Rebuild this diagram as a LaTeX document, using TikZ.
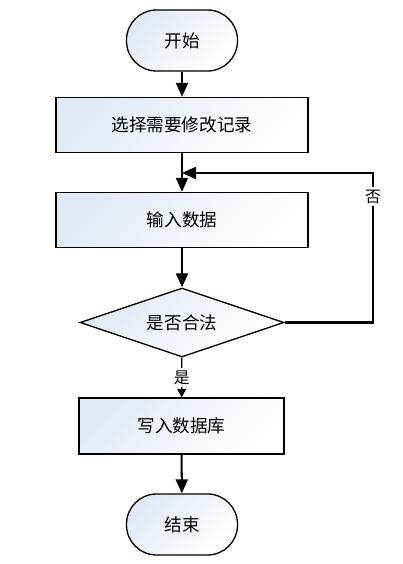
\documentclass[tikz,border=0pt]{standalone}
\usepackage{fontspec}
\setmainfont{Noto Sans CJK SC}
\usepackage{tikz}
\usetikzlibrary{arrows.meta,shapes.geometric,positioning}
\definecolor{fillblue}{RGB}{226,233,246}
\tikzset{
  flowfill/.style={draw, line width=0.75pt, top color=fillblue, bottom color=white, shading angle=45},
  terminal/.style={flowfill, rectangle, rounded corners=0.6cm, minimum width=2.22cm, minimum height=1.22cm},
  process/.style={flowfill, rectangle, minimum height=1.1cm},
  decision/.style={flowfill, diamond, aspect=3, inner sep=0pt, minimum width=4.08cm, minimum height=1.38cm},
  flowline/.style={line width=1.15pt, -{Triangle[width=0.24cm,length=0.28cm]}},
  thinline/.style={line width=0.7pt, -{Triangle[width=0.18cm,length=0.17cm]}},
  labeltext/.style={fill=white, inner sep=1.5pt, font=\small}
}
\begin{document}
\begin{tikzpicture}
\useasboundingbox (0,0) rectangle (8.04,-11.28);
\node[terminal] (start) at (3.64,-0.81) {开始};
\node[process, minimum width=5.04cm] (select) at (3.64,-2.5) {选择需要修改记录};
\node[process, minimum width=5.04cm] (input) at (3.64,-4.4) {输入数据};
\node[decision] (valid) at (3.64,-6.45) {是否合法};
\node[process, minimum width=4.1cm, minimum height=1.12cm] (write) at (3.63,-8.52) {写入数据库};
\node[terminal] (finish) at (3.64,-10.49) {结束};
\coordinate (merge) at (3.64,-3.46);
\coordinate (loopcorner) at (7.46,-3.46);

\draw[flowline] (start) -- (select);
\draw[flowline] (select) -- (input);
\draw[flowline] (input) -- (valid);
\draw[thinline] (valid) -- node[labeltext] {是} (write);
\draw[flowline] (write) -- (finish);
\draw[flowline] (valid.east) -| node[pos=0.92, labeltext] {否} (loopcorner) -- (merge);
\end{tikzpicture}
\end{document}
